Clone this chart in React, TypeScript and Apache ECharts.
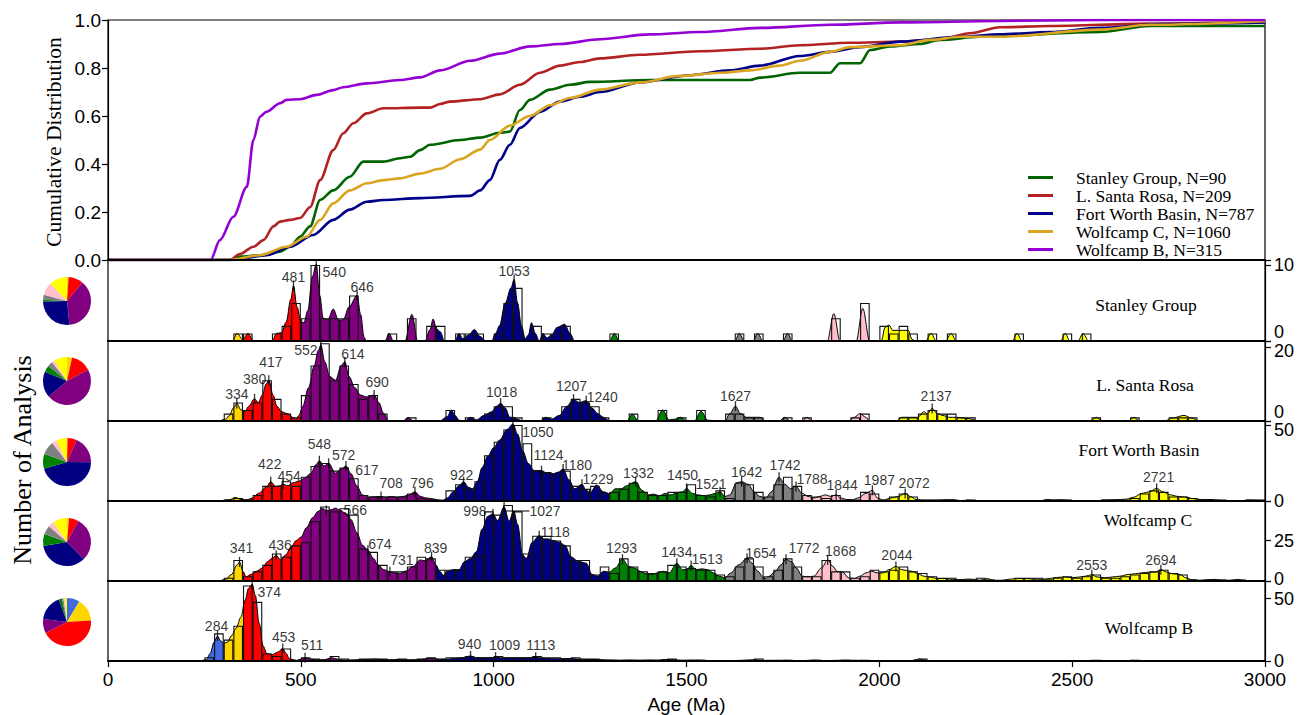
import React, { useEffect, useRef } from "react";
import * as echarts from "echarts";

// ---------------- data ----------------
const AGE_MIN = 0;
const AGE_MAX = 3000;
const AGE_STEP = 500;
const BIN_WIDTH = 25;

const seriesNames = [
  "Stanley Group, N=90",
  "L. Santa Rosa, N=209",
  "Fort Worth Basin, N=787",
  "Wolfcamp C, N=1060",
  "Wolfcamp B, N=315",
];
const panelNames = ["Stanley Group", "L. Santa Rosa", "Fort Worth Basin", "Wolfcamp C", "Wolfcamp B"];
const lineColors = ["#006400", "#B22222", "#00008B", "#DAA520", "#9400D3"];

// age groups used for fill colours and pies
const ageGroupBounds = [0, 300, 350, 500, 850, 1300, 1600, 1800, 2000, 3000];
const ageGroupColors = ["#4169E1", "#FFD700", "#FF0000", "#800080", "#000080", "#008000", "#808080", "#FFC0CB", "#FFFF00"];

// cumulative distributions [age, fraction]
const cdfStanley = [
  [0, 0], [316, 0], [342, 0.014], [394, 0.02], [446, 0.035], [472, 0.055], [498, 0.097], [524, 0.14], [550, 0.25],
  [584, 0.29], [627, 0.347], [662, 0.41], [714, 0.41], [757, 0.424], [783, 0.43], [809, 0.458], [835, 0.48], [913, 0.5],
  [965, 0.51], [1016, 0.53], [1042, 0.535], [1068, 0.625], [1094, 0.667], [1146, 0.71], [1198, 0.73], [1250, 0.742],
  [1405, 0.75], [1665, 0.75], [1691, 0.76], [1794, 0.78], [1872, 0.78], [1898, 0.82], [1950, 0.82], [1976, 0.875],
  [2028, 0.89], [2105, 0.9], [2157, 0.917], [2261, 0.93], [2572, 0.95], [2702, 0.975], [3000, 0.975],
];
const cdfSantaRosa = [
  [0, 0], [316, 0], [342, 0.025], [377, 0.055], [403, 0.083], [429, 0.14], [446, 0.16], [472, 0.167], [498, 0.175],
  [524, 0.22], [550, 0.333], [584, 0.458], [610, 0.528], [636, 0.57], [671, 0.611], [714, 0.632], [809, 0.635],
  [835, 0.635], [861, 0.65], [887, 0.66], [965, 0.67], [1016, 0.69], [1068, 0.73], [1120, 0.78], [1172, 0.81],
  [1224, 0.825], [1276, 0.84], [1379, 0.855], [1535, 0.87], [1691, 0.88], [1794, 0.895], [1924, 0.905], [2054, 0.91],
  [2157, 0.92], [2235, 0.945], [2313, 0.97], [2443, 0.975], [2702, 0.985], [2961, 0.99], [3000, 0.99],
];
const cdfFortWorth = [
  [0, 0], [323, 0], [411, 0.02], [472, 0.055], [532, 0.104], [584, 0.167], [627, 0.21], [671, 0.243], [714, 0.25],
  [809, 0.258], [939, 0.267], [965, 0.29], [990, 0.333], [1016, 0.417], [1042, 0.48], [1068, 0.55], [1120, 0.617],
  [1172, 0.66], [1224, 0.68], [1276, 0.7], [1379, 0.74], [1509, 0.77], [1613, 0.79], [1691, 0.81], [1794, 0.85],
  [1872, 0.867], [1950, 0.887], [2054, 0.91], [2209, 0.93], [2313, 0.94], [2443, 0.95], [2572, 0.967], [2728, 0.983],
  [3000, 0.99],
];
const cdfWolfcampC = [
  [0, 0], [316, 0], [394, 0.02], [463, 0.055], [515, 0.097], [550, 0.167], [584, 0.236], [627, 0.29], [671, 0.32],
  [714, 0.333], [757, 0.34], [809, 0.36], [861, 0.38], [913, 0.42], [965, 0.46], [990, 0.5], [1042, 0.56], [1094, 0.6],
  [1146, 0.645], [1198, 0.675], [1276, 0.71], [1379, 0.74], [1483, 0.767], [1587, 0.78], [1665, 0.79], [1742, 0.81],
  [1794, 0.83], [1872, 0.867], [1924, 0.887], [2054, 0.895], [2131, 0.917], [2209, 0.93], [2313, 0.93], [2572, 0.96],
  [2702, 0.98], [3000, 0.995],
];
const cdfWolfcampB = [
  [0, 0], [266, 0], [290, 0.083], [325, 0.18], [360, 0.305], [377, 0.5], [394, 0.597], [411, 0.618], [446, 0.653],
  [463, 0.667], [498, 0.67], [541, 0.688], [584, 0.708], [610, 0.72], [671, 0.736], [757, 0.75], [809, 0.761],
  [861, 0.79], [939, 0.83], [1016, 0.86], [1094, 0.89], [1172, 0.9], [1276, 0.92], [1405, 0.94], [1535, 0.95],
  [1691, 0.967], [1872, 0.98], [2054, 0.99], [2313, 0.996], [2572, 1.0], [3000, 1.0],
];

// histograms [bin start (Ma), count], 25 Ma bins
const stanleyHist = [
  [325, 1], [350, 1], [425, 1], [450, 2], [475, 5], [500, 3], [525, 10], [550, 3], [575, 3], [600, 3], [625, 6],
  [725, 1], [775, 3], [825, 2], [850, 2], [900, 1], [925, 1], [950, 1], [1000, 1], [1025, 5], [1050, 7], [1100, 2],
  [1125, 1], [1150, 1], [1175, 2], [1300, 1], [1625, 1], [1675, 1], [1750, 1], [1875, 3], [1950, 5], [2000, 2],
  [2025, 1], [2050, 2], [2075, 1], [2125, 1], [2175, 1], [2350, 1], [2475, 1], [2525, 1],
];
const santaRosaHist = [
  [300, 2], [325, 5], [350, 3], [375, 5], [400, 11], [425, 6], [450, 2], [475, 1], [500, 7], [525, 15], [550, 21],
  [575, 11], [600, 15], [625, 10], [650, 6], [675, 7], [700, 2], [775, 1], [875, 3], [925, 1], [975, 2], [1000, 4],
  [1025, 4], [1050, 1], [1125, 1], [1175, 4], [1200, 6], [1225, 5], [1250, 4], [1275, 1], [1350, 2], [1425, 3],
  [1475, 1], [1525, 3], [1600, 2], [1625, 2], [1650, 1], [1675, 1], [1750, 1], [1800, 1], [1925, 1], [1950, 2],
  [2050, 1], [2075, 1], [2100, 2], [2125, 3], [2150, 2], [2175, 2], [2200, 1], [2225, 1], [2550, 1], [2650, 1],
  [2750, 1], [2775, 1], [2800, 1],
];
const fortWorthHist = [
  [300, 1], [325, 2], [350, 1], [375, 4], [400, 10], [425, 10], [450, 13], [475, 10], [500, 16], [525, 23], [550, 25],
  [575, 20], [600, 22], [625, 15], [650, 4], [675, 3], [700, 3], [725, 3], [750, 3], [775, 5], [800, 2], [825, 1],
  [875, 7], [900, 11], [925, 8], [950, 13], [975, 30], [1000, 39], [1025, 47], [1050, 50], [1075, 38], [1100, 20],
  [1125, 19], [1150, 17], [1175, 20], [1200, 10], [1225, 8], [1250, 10], [1275, 5], [1300, 6], [1325, 8], [1350, 12],
  [1375, 6], [1400, 4], [1425, 4], [1450, 6], [1475, 6], [1500, 11], [1525, 4], [1550, 3], [1575, 7], [1600, 2],
  [1625, 12], [1650, 11], [1675, 6], [1700, 3], [1725, 11], [1750, 16], [1775, 10], [1800, 4], [1825, 3], [1850, 2],
  [1875, 4], [1900, 1], [1925, 1], [1950, 6], [1975, 5], [2000, 1], [2025, 3], [2050, 5], [2075, 3], [2100, 1],
  [2125, 1], [2150, 1], [2175, 1], [2225, 1], [2425, 1], [2450, 1], [2475, 1], [2575, 1], [2600, 1], [2625, 1],
  [2650, 2], [2675, 5], [2700, 7], [2725, 6], [2750, 3], [2775, 3], [2800, 2], [2825, 1], [2850, 1], [2875, 1],
  [2950, 1], [2975, 1],
];
const wolfcampCHist = [
  [300, 2], [325, 13], [350, 3], [375, 6], [400, 10], [425, 17], [450, 15], [475, 22], [500, 24], [525, 37], [550, 46],
  [575, 43], [600, 45], [625, 41], [650, 20], [675, 18], [700, 10], [725, 6], [750, 6], [775, 9], [800, 15], [825, 14],
  [850, 7], [875, 7], [900, 7], [925, 15], [950, 16], [975, 43], [1000, 41], [1025, 47], [1050, 43], [1075, 17],
  [1100, 28], [1125, 28], [1150, 25], [1175, 22], [1200, 13], [1225, 13], [1250, 4], [1275, 9], [1300, 5], [1325, 14],
  [1350, 9], [1375, 6], [1400, 5], [1425, 6], [1450, 10], [1475, 9], [1500, 8], [1525, 7], [1550, 7], [1575, 4],
  [1600, 3], [1625, 9], [1650, 14], [1675, 9], [1700, 3], [1725, 7], [1750, 14], [1775, 9], [1800, 3], [1825, 3],
  [1850, 13], [1875, 6], [1900, 6], [1925, 2], [1950, 3], [1975, 7], [2000, 6], [2025, 7], [2050, 9], [2075, 6],
  [2100, 5], [2125, 3], [2150, 2], [2175, 2], [2200, 1], [2225, 1], [2250, 2], [2275, 1], [2350, 2], [2375, 2],
  [2400, 2], [2425, 1], [2450, 2], [2475, 3], [2500, 2], [2525, 3], [2550, 4], [2575, 2], [2600, 2], [2625, 3],
  [2650, 4], [2675, 5], [2700, 6], [2725, 7], [2750, 5], [2775, 4], [2800, 1], [2850, 1], [2875, 1], [2925, 1],
];
const wolfcampBHist = [
  [250, 3], [275, 22], [300, 17], [325, 28], [350, 60], [375, 47], [400, 6], [425, 4], [450, 10], [500, 3], [525, 2],
  [550, 1], [575, 4], [600, 2], [625, 1], [650, 2], [675, 2], [700, 2], [725, 1], [750, 2], [775, 1], [800, 2],
  [825, 3], [850, 2], [875, 3], [900, 3], [925, 4], [950, 3], [975, 3], [1000, 4], [1025, 3], [1050, 3], [1075, 3],
  [1100, 4], [1125, 3], [1150, 3], [1175, 2], [1200, 3], [1225, 2], [1250, 2], [1275, 1], [1300, 1], [1350, 1],
  [1400, 1], [1450, 2], [1525, 1], [1675, 2], [1750, 1], [1825, 1], [1900, 1], [1950, 1], [2100, 2], [2550, 1],
  [2650, 1],
];

// probability density curves [age, value]
const stanleyKde = [
  [290, 0], [322, 0], [335, 1.0], [349, 0.2], [363, 1.0], [378, 0], [425, 0], [437, 1.0], [450, 1.1], [462, 2.5],
  [474, 5.5], [481, 7.3], [490, 4.5], [500, 2.6], [508, 2.4], [518, 4], [530, 8.5], [540, 10.1], [549, 6], [558, 3],
  [570, 2.8], [584, 4.2], [598, 2.7], [610, 2.8], [625, 4.5], [646, 6], [655, 3.5], [664, 0.5], [670, 0], [718, 0],
  [729, 1], [740, 0], [770, 0], [788, 3.5], [803, 0], [822, 0], [835, 1.5], [843, 2.9], [852, 1.6], [862, 1.2],
  [872, 0], [900, 0], [910, 1], [920, 0.3], [935, 0.8], [950, 1.5], [965, 0.6], [980, 0], [995, 0], [1005, 1],
  [1015, 2], [1030, 5], [1045, 7], [1053, 8.1], [1062, 5], [1072, 2], [1082, 0.3], [1090, 0.8], [1098, 2.4],
  [1108, 1], [1118, 0], [1128, 1], [1138, 0.4], [1150, 0.8], [1165, 1.8], [1184, 2.2], [1198, 1], [1210, 0],
  [1300, 0], [1313, 1], [1326, 0], [1625, 0], [1637, 1], [1650, 0], [1672, 0], [1685, 1], [1698, 0], [1750, 0],
  [1762, 1], [1775, 0], [1865, 0], [1882, 3.6], [1898, 0], [1940, 0], [1957, 4.3], [1975, 0], [2005, 0], [2015, 1.8],
  [2025, 2.1], [2035, 1.4], [2060, 1.4], [2075, 1.4], [2085, 0.2], [2095, 0], [2120, 0], [2134, 1], [2148, 0],
  [2172, 0], [2186, 1], [2200, 0], [2345, 0], [2357, 1], [2370, 0], [2470, 0], [2482, 1], [2494, 0], [2515, 0],
  [2528, 1], [2540, 0],
];
const santaRosaKde = [
  [290, 0], [305, 0.5], [315, 1.5], [325, 3.5], [334, 4.7], [345, 3], [355, 2.5], [365, 4], [380, 6], [390, 5],
  [400, 7], [410, 10], [417, 11], [428, 7], [438, 4], [450, 2.5], [465, 2], [478, 1.0], [488, 0.5], [495, 1.5],
  [505, 4], [520, 9], [535, 15], [545, 19], [552, 20.5], [562, 16], [575, 12], [590, 11], [605, 15], [614, 16],
  [625, 12], [640, 9], [655, 7], [670, 6.5], [690, 7], [702, 5], [715, 2], [728, 0], [765, 0], [778, 1], [792, 0],
  [860, 0], [880, 1.2], [890, 3], [900, 1.5], [910, 0.2], [925, 0], [940, 1], [955, 0.3], [975, 1.5], [995, 2.5],
  [1008, 4], [1018, 4.8], [1030, 3.5], [1042, 1], [1052, 1], [1062, 0.5], [1075, 0], [1120, 0], [1135, 1],
  [1150, 0.5], [1170, 1.5], [1190, 4], [1207, 5.9], [1222, 5], [1240, 5.5], [1255, 3.5], [1270, 2], [1285, 1],
  [1298, 0.2], [1310, 0], [1345, 0], [1360, 1.8], [1375, 0], [1420, 0], [1438, 3], [1455, 0.3], [1470, 0.5],
  [1485, 1], [1500, 0], [1520, 0], [1538, 2.6], [1555, 0.2], [1600, 0], [1612, 2], [1627, 4], [1640, 2], [1655, 1],
  [1670, 1], [1690, 1], [1705, 0], [1740, 0], [1755, 1], [1770, 0], [1800, 0], [1812, 1], [1825, 0], [1920, 0],
  [1935, 1], [1950, 2], [1965, 1], [1975, 0], [2045, 0], [2058, 1], [2080, 1], [2100, 1], [2115, 2.5], [2125, 2],
  [2137, 3.4], [2150, 2], [2165, 1.5], [2180, 1], [2200, 1], [2220, 0.8], [2240, 0.5], [2255, 0], [2548, 0],
  [2563, 1], [2578, 0], [2645, 0], [2660, 1], [2675, 0], [2740, 0], [2760, 0.8], [2790, 1.5], [2810, 0.8], [2825, 0],
];
const fortWorthKde = [
  [290, 0], [315, 0.8], [330, 2.4], [345, 1], [360, 0.8], [375, 2], [390, 5], [410, 9], [422, 12.7], [435, 9.5],
  [445, 10], [454, 11], [465, 10], [480, 12], [495, 13], [510, 15], [525, 18], [540, 24], [548, 26.5], [560, 23],
  [572, 24.8], [590, 18.3], [605, 21], [617, 23], [630, 18], [645, 10], [660, 4], [675, 2.5], [690, 2.8], [708, 3],
  [720, 2.5], [735, 3], [750, 2.5], [765, 3], [780, 4], [796, 6], [810, 3], [825, 2], [840, 1.5], [855, 0.8],
  [868, 0.5], [880, 2], [895, 6], [910, 10], [922, 12.7], [935, 9], [945, 8], [958, 13], [970, 22], [985, 29.6],
  [1000, 35], [1015, 40], [1035, 47], [1050, 50.7], [1062, 44], [1075, 33], [1090, 24.7], [1105, 20], [1124, 20],
  [1140, 18], [1155, 18], [1168, 19], [1180, 21], [1195, 14], [1210, 8], [1229, 11], [1240, 7], [1250, 5.5],
  [1267, 10.5], [1285, 6], [1302, 4.8], [1315, 8], [1330, 8], [1345, 10], [1368, 12.7], [1385, 7], [1400, 4],
  [1415, 4.5], [1430, 3.5], [1445, 5], [1460, 4], [1475, 5.5], [1490, 6], [1500, 8.3], [1515, 5], [1530, 4],
  [1545, 3.5], [1560, 4], [1575, 5], [1587, 6], [1600, 3], [1612, 4], [1630, 12], [1643, 12.7], [1660, 11],
  [1675, 6], [1690, 3], [1706, 2], [1720, 6], [1740, 15.6], [1755, 11], [1770, 8], [1784, 9.6], [1800, 5],
  [1815, 3], [1830, 2], [1845, 3], [1860, 4], [1875, 3], [1888, 4], [1900, 2], [1915, 1], [1930, 0.8], [1945, 2],
  [1965, 5], [1982, 7], [1995, 2], [2010, 0.5], [2030, 2], [2050, 3], [2067, 5], [2080, 3], [2095, 1], [2110, 0.5],
  [2130, 0.5], [2150, 0.5], [2175, 0.8], [2190, 0.8], [2210, 0.3], [2230, 0.5], [2250, 0.2], [2270, 0], [2420, 0],
  [2435, 1], [2450, 0.6], [2470, 0.8], [2490, 0.5], [2505, 0], [2560, 0], [2580, 0.6], [2610, 0.8], [2640, 1.2],
  [2660, 2.5], [2680, 5], [2700, 6], [2719, 8.3], [2735, 6], [2755, 4], [2775, 3], [2795, 2.5], [2815, 1.5],
  [2835, 1], [2860, 1], [2880, 0.5], [2900, 0], [2935, 0], [2955, 0.6], [2975, 0.5], [2995, 0.2],
];
const wolfcampCKde = [
  [290, 0], [305, 1], [320, 4], [335, 10], [341, 11.8], [350, 6], [358, 2.6], [370, 4], [385, 6], [400, 8],
  [414, 12], [425, 14], [436, 15.9], [448, 13], [460, 16], [475, 21], [488, 25], [500, 27], [515, 33], [530, 39],
  [545, 43], [556, 45], [566, 43.5], [578, 44], [590, 45], [600, 44], [615, 42], [630, 38], [645, 30], [660, 22],
  [674, 19], [688, 14], [700, 10], [715, 7], [731, 5.7], [740, 5.2], [755, 4.5], [770, 6], [790, 9], [810, 13],
  [822, 12.5], [839, 15], [850, 10], [860, 6], [870, 3.5], [880, 6], [895, 7], [910, 7], [925, 12], [940, 14],
  [955, 18], [970, 32], [985, 40], [998, 41.5], [1010, 37.4], [1027, 45.7], [1040, 37], [1052, 43.3], [1062, 35],
  [1075, 16], [1085, 14], [1100, 24], [1118, 28], [1130, 26], [1140, 26], [1155, 25], [1170, 24], [1185, 22],
  [1200, 15], [1220, 12], [1240, 11], [1255, 4], [1270, 3], [1285, 6], [1300, 5.5], [1315, 8], [1334, 13.5],
  [1350, 9], [1365, 8], [1380, 6], [1395, 4.5], [1410, 4], [1425, 5], [1440, 6], [1455, 5], [1475, 11], [1490, 7],
  [1500, 7], [1512, 9.6], [1525, 7], [1540, 7.5], [1555, 7], [1570, 5], [1585, 3], [1600, 2], [1615, 5], [1635, 10],
  [1657, 14], [1670, 11], [1685, 6], [1700, 2], [1706, 1.6], [1715, 3], [1730, 6], [1745, 10], [1758, 13.4],
  [1772, 12], [1785, 8], [1800, 3], [1815, 2.5], [1830, 3], [1850, 8], [1866, 13], [1880, 9], [1890, 6],
  [1905, 5.5], [1920, 2], [1935, 1.5], [1950, 3], [1965, 5], [1980, 6], [1995, 5], [2010, 5], [2025, 7], [2043, 9],
  [2058, 7], [2070, 6.5], [2085, 6], [2100, 4.5], [2115, 3], [2130, 2.5], [2150, 1.5], [2170, 1.5], [2190, 1],
  [2210, 0.8], [2230, 1.2], [2245, 1], [2260, 0.5], [2280, 1.5], [2295, 0.4], [2320, 0.5], [2340, 1.2], [2360, 1.5],
  [2380, 1.5], [2400, 1.2], [2420, 1], [2440, 1.5], [2460, 2.2], [2480, 2.5], [2500, 2], [2520, 2.5], [2535, 3],
  [2551, 3.9], [2565, 2.5], [2585, 2], [2605, 2.5], [2625, 3], [2645, 4], [2665, 4.5], [2680, 5], [2700, 5.5],
  [2715, 5.5], [2730, 7], [2745, 5.5], [2760, 4.5], [2780, 4], [2795, 2], [2810, 0.8], [2830, 0.5], [2850, 0.8],
  [2870, 1], [2890, 0.4], [2910, 0.5], [2930, 1], [2945, 0.2], [2960, 0],
];
const wolfcampBKde = [
  [240, 0], [255, 1], [265, 6], [275, 15], [284, 19.8], [292, 16], [300, 14], [310, 15], [320, 20], [332, 26],
  [345, 35], [355, 48], [365, 58], [374, 61], [382, 52], [392, 30], [402, 12], [412, 6], [425, 5], [440, 7],
  [453, 10], [462, 6], [470, 2], [480, 1], [490, 0.5], [500, 1.5], [511, 2.5], [525, 1.5], [540, 1], [560, 1],
  [580, 2.6], [595, 1.5], [610, 0.8], [630, 0.8], [650, 1], [670, 1.2], [690, 1.5], [710, 1.2], [730, 1], [750, 1.2],
  [770, 1], [790, 1], [810, 1.2], [830, 2], [845, 2], [860, 1.2], [880, 1.5], [900, 2], [920, 2.5], [940, 4],
  [955, 2.5], [970, 2.5], [990, 2.5], [1005, 3], [1020, 2.5], [1040, 2.5], [1060, 2.5], [1080, 2.5], [1095, 2.5],
  [1109, 3], [1125, 2.3], [1140, 2], [1160, 1.8], [1180, 1.8], [1200, 2], [1220, 1.5], [1240, 1.2], [1260, 1.2],
  [1280, 1], [1300, 0.8], [1320, 0.6], [1345, 0.8], [1370, 0.6], [1395, 0.8], [1420, 0.6], [1445, 1.2], [1465, 1],
  [1490, 0.6], [1515, 0.8], [1540, 0.6], [1560, 0.3], [1600, 0.3], [1640, 0.5], [1675, 1], [1700, 0.5], [1740, 0.6],
  [1760, 0.5], [1800, 0.3], [1830, 0.7], [1860, 0.3], [1900, 0.6], [1940, 0.6], [1970, 0.3], [2000, 0.2],
  [2080, 0.3], [2105, 1.5], [2125, 0.5], [2150, 0], [2530, 0], [2550, 0.5], [2570, 0], [2640, 0], [2655, 0.5],
  [2670, 0],
];

// peaks: [label text, age (Ma), density]
const stanleyPeaks = [["481", 481, 7.3], ["540", 540, 10.1], ["646", 646, 6.0], ["1053", 1053, 8.1]];
const santaRosaPeaks = [
  ["334", 334, 4.7], ["380", 380, 6.0], ["417", 417, 11.0], ["552", 552, 20.5], ["614", 614, 16.0], ["690", 690, 7.0],
  ["1018", 1018, 4.8], ["1207", 1207, 5.9], ["1240", 1240, 5.5], ["1627", 1627, 4.0], ["2137", 2137, 3.4],
];
const fortWorthPeaks = [
  ["422", 422, 12.7], ["454", 454, 11], ["548", 548, 26.5], ["572", 572, 24.8], ["617", 617, 23], ["708", 708, 3],
  ["796", 796, 6], ["922", 922, 12.7], ["1050", 1050, 50.7], ["1124", 1124, 20], ["1180", 1180, 21], ["1229", 1229, 11],
  ["1332", 1368, 12.7], ["1450", 1500, 8.3], ["1521", 1587, 6], ["1642", 1643, 12.7], ["1742", 1740, 15.6],
  ["1788", 1784, 9.6], ["1844", 1888, 4], ["1987", 1982, 7], ["2072", 2067, 5], ["2721", 2719, 8.3],
];
const wolfcampCPeaks = [
  ["341", 341, 11.8], ["436", 436, 15.9], ["566", 566, 43.5], ["674", 674, 19], ["731", 731, 5.7], ["839", 839, 15],
  ["998", 998, 41.5], ["1027", 1027, 45.7], ["1118", 1118, 28], ["1293", 1334, 13.5], ["1434", 1475, 11],
  ["1513", 1512, 9.6], ["1654", 1657, 14], ["1772", 1758, 13.4], ["1868", 1866, 13], ["2044", 2043, 9],
  ["2553", 2551, 3.9], ["2694", 2730, 7],
];
const wolfcampBPeaks = [
  ["284", 284, 19.8], ["374", 374, 61], ["453", 453, 10], ["511", 511, 2.5], ["940", 940, 4], ["1009", 1005, 3],
  ["1113", 1109, 3],
];

const cdfs = [cdfStanley, cdfSantaRosa, cdfFortWorth, cdfWolfcampC, cdfWolfcampB];
const hists = [stanleyHist, santaRosaHist, fortWorthHist, wolfcampCHist, wolfcampBHist];
const kdes = [stanleyKde, santaRosaKde, fortWorthKde, wolfcampCKde, wolfcampBKde];
const peaks = [stanleyPeaks, santaRosaPeaks, fortWorthPeaks, wolfcampCPeaks, wolfcampBPeaks];
const panelYMax = [10.66, 21.6, 52.6, 49.4, 63.5];
const panelYStep = [10, 20, 50, 25, 50];

// ---------------- layout / style ----------------
const SANS = "'Liberation Sans', Arial, Helvetica, sans-serif";
const SERIF = "'Liberation Serif', 'Times New Roman', Times, serif";
const PLOT_LEFT = 108;
const PLOT_W = 1157;
const CDF_TOP = 20;
const CDF_H = 240;
const PANEL_TOPS = [260, 341, 421, 501, 581];
const PANEL_HS = [81, 80, 80, 80, 80];
const PIE_X = 67;
const PIE_YS = [301, 381, 462, 542, 622];
const PIE_R = 24;
const NAME_POS = [[1146, 305], [1145, 385], [1139, 450], [1148, 520], [1149, 628]];
// vertical shift (px, + = down) of the right-axis "0" label and upper label of each panel
const ZERO_LABEL_SHIFT = [-9, -9, 0, -2, 0];
const UPPER_LABEL_SHIFT = [0, 4, 5, 0, 1];
// pixel offset of each peak label's centre from its peak
const LABEL_OFFSETS: Record<string, number[]>[] = [
  { "481": [0, -9], "540": [18, 8], "646": [5, -8], "1053": [0, -8] },
  {
    "334": [0, -10], "380": [0, -20], "417": [2, -18], "552": [-15, 5], "614": [8, -8], "690": [3, -13],
    "1018": [1, -11], "1207": [-2, -13], "1240": [16, -4], "1627": [0, -10], "2137": [4, -12],
  },
  {
    "422": [-1, -18], "454": [6, -8], "548": [0, -17], "572": [15, -8], "617": [21, 4], "708": [10, -13],
    "796": [7, -9], "922": [-2, -7], "1050": [25, 8], "1124": [7, -16], "1180": [14, -4], "1229": [16, -5],
    "1332": [3, -9], "1450": [-4, -13], "1521": [-9, -8], "1642": [5, -10], "1742": [6, -12], "1788": [16, -7],
    "1844": [6, -10], "1987": [7, -10], "2072": [9, -10], "2721": [2, -11],
  },
  {
    "341": [2, -14], "436": [4, -10], "566": [29, -1], "674": [12, -6], "731": [12, -12], "839": [4, -9],
    "998": [-18, -3], "1027": [41, 4], "1118": [16, -4], "1293": [-1, -11], "1434": [0, -11], "1513": [16, -6],
    "1654": [14, -5], "1772": [18, -11], "1868": [13, -9], "2044": [1, -11], "2553": [0, -10], "2694": [0, -10],
  },
  { "284": [-1, -10], "374": [17, 8], "453": [1, -11], "511": [7, -13], "940": [-1, -12], "1009": [9, -12], "1113": [5, -12] },
];
const LEADER_LABELS: Record<string, boolean> = { "3:1027": true };

function groupIndex(age: number) {
  for (let k = 0; k < ageGroupBounds.length - 1; k++) {
    if (age >= ageGroupBounds[k] && age < ageGroupBounds[k + 1]) return k;
  }
  return ageGroupBounds.length - 2;
}

function shiftPadding(s: number) {
  return s < 0 ? [0, 0, -2 * s, 0] : [2 * s, 0, 0, 0];
}

function buildOption() {
  const grid: any[] = [
    { left: PLOT_LEFT, top: CDF_TOP, width: PLOT_W, height: CDF_H, show: true, borderColor: "#000", borderWidth: 1.2, outerBoundsMode: "none", containLabel: false },
  ];
  PANEL_TOPS.forEach((t, i) =>
    grid.push({ left: PLOT_LEFT, top: t, width: PLOT_W, height: PANEL_HS[i], show: true, borderColor: "#000", borderWidth: 1.2, outerBoundsMode: "none", containLabel: false })
  );

  const xAxis: any[] = [];
  for (let g = 0; g < 6; g++) {
    const bottom = g === 5;
    xAxis.push({
      type: "value",
      gridIndex: g,
      min: AGE_MIN,
      max: AGE_MAX,
      interval: AGE_STEP,
      z: 10,
      axisLine: { show: true, onZero: false, lineStyle: { color: "#000", width: 1.8 } },
      axisTick: { show: bottom, length: 6, lineStyle: { color: "#000", width: 1.2 } },
      axisLabel: { show: bottom, fontSize: 19, fontFamily: SANS, color: "#000", margin: 9, formatter: (v: number) => String(v) },
      splitLine: { show: false },
      name: bottom ? "Age (Ma)" : "",
      nameLocation: "middle",
      nameGap: 34,
      nameTextStyle: { fontSize: 19, fontFamily: SANS, color: "#000" },
    });
  }

  const yAxis: any[] = [
    {
      type: "value",
      gridIndex: 0,
      min: 0,
      max: 1,
      interval: 0.2,
      z: 10,
      axisLine: { show: true, onZero: false, lineStyle: { color: "#000", width: 1.2 } },
      axisTick: { show: true, length: 6, lineStyle: { color: "#000", width: 1.2 } },
      axisLabel: { fontSize: 19, fontFamily: SANS, color: "#000", margin: 7, formatter: (v: number) => v.toFixed(1) },
      splitLine: { show: false },
    },
  ];
  for (let i = 0; i < 5; i++) {
    const step = panelYStep[i];
    const base = { fontSize: 18, fontFamily: SANS, color: "#000" };
    yAxis.push({
      type: "value",
      gridIndex: i + 1,
      position: "right",
      min: 0,
      max: panelYMax[i],
      interval: step,
      z: 10,
      axisLine: { show: true, onZero: false, lineStyle: { color: "#000", width: 1.2 } },
      axisTick: { show: true, length: 6, lineStyle: { color: "#000", width: 1.2 } },
      axisLabel: {
        ...base,
        margin: 9,
        formatter: (v: number) => {
          const r = v / step;
          if (Math.abs(r - Math.round(r)) > 1e-6) return "";
          if (v === 0) return "{z|0}";
          return `{u|${v}}`;
        },
        rich: {
          z: { ...base, padding: shiftPadding(ZERO_LABEL_SHIFT[i]) },
          u: { ...base, padding: shiftPadding(UPPER_LABEL_SHIFT[i]) },
        },
      },
      splitLine: { show: false },
    });
  }

  const series: any[] = [];
  cdfs.forEach((d, i) => {
    series.push({
      type: "line",
      name: seriesNames[i],
      xAxisIndex: 0,
      yAxisIndex: 0,
      data: d,
      smooth: 0.3,
      smoothMonotone: "x",
      symbol: "none",
      lineStyle: { color: lineColors[i], width: 2.6 },
      itemStyle: { color: lineColors[i] },
      z: 3,
      silent: true,
    });
  });

  const kdeIdx: number[] = [];
  const barPx = (PLOT_W / (AGE_MAX - AGE_MIN)) * BIN_WIDTH;
  for (let i = 0; i < 5; i++) {
    kdeIdx.push(series.length);
    series.push({
      type: "line",
      xAxisIndex: i + 1,
      yAxisIndex: i + 1,
      data: kdes[i],
      smooth: 0.35,
      smoothMonotone: "x",
      symbol: "none",
      lineStyle: { color: "#000", width: 1 },
      areaStyle: { opacity: 1 },
      z: 2,
      silent: true,
    });
    series.push({
      type: "bar",
      xAxisIndex: i + 1,
      yAxisIndex: i + 1,
      data: hists[i].map(([s, c]) => [s + BIN_WIDTH / 2, c]),
      barWidth: barPx,
      itemStyle: { color: "rgba(0,0,0,0)", borderColor: "#111", borderWidth: 1.1 },
      z: 3,
      silent: true,
    });
    const offs = LABEL_OFFSETS[i];
    const pk = peaks[i];
    series.push({
      type: "scatter",
      xAxisIndex: i + 1,
      yAxisIndex: i + 1,
      symbol: "rect",
      symbolSize: [1.3, 10],
      itemStyle: { color: "#000" },
      z: 5,
      silent: true,
      data: pk.map(([t, a, h]) => ({
        name: t,
        value: [a, h],
        labelLine: { show: !!LEADER_LABELS[`${i}:${t}`], lineStyle: { color: "#000", width: 1 } },
      })),
      label: { show: true, position: "inside", formatter: "{b}", fontSize: 14, fontFamily: SANS, color: "#000" },
      labelLine: { show: false },
      labelLayout: (p: any) => {
        const o = offs[pk[p.dataIndex][0] as string] || [0, -10];
        return { dx: o[0], dy: o[1] };
      },
    });
    const sums = ageGroupColors.map(() => 0);
    hists[i].forEach(([s, c]) => {
      sums[groupIndex(s)] += c;
    });
    series.push({
      type: "pie",
      center: [PIE_X, PIE_YS[i]],
      radius: PIE_R,
      startAngle: 90,
      clockwise: true,
      silent: true,
      label: { show: false },
      labelLine: { show: false },
      data: sums.map((v, k) => ({ value: v, itemStyle: { color: ageGroupColors[k] } })),
      itemStyle: { borderWidth: 0 },
    });
  }

  const pieces: any[] = ageGroupColors.map((c, k) => ({ gte: ageGroupBounds[k], lt: ageGroupBounds[k + 1], color: c }));
  pieces[pieces.length - 1] = { gte: ageGroupBounds[ageGroupBounds.length - 2], lt: 100000, color: ageGroupColors[ageGroupColors.length - 1] };
  pieces[0] = { gte: -100000, lt: ageGroupBounds[1], color: ageGroupColors[0] };

  const graphic: any[] = [
    {
      type: "text",
      x: 54,
      y: 142,
      rotation: Math.PI / 2,
      style: { text: "Cumulative Distribution", fontSize: 21.5, fontFamily: SERIF, fill: "#000", align: "center", verticalAlign: "middle" },
    },
    {
      type: "text",
      x: 22,
      y: 460,
      rotation: Math.PI / 2,
      style: { text: "Number of Analysis", fontSize: 26, fontFamily: SERIF, fill: "#000", align: "center", verticalAlign: "middle" },
    },
  ];
  panelNames.forEach((n, i) => {
    graphic.push({
      type: "text",
      x: NAME_POS[i][0],
      y: NAME_POS[i][1],
      z: 20,
      style: { text: n, fontSize: 17.5, fontFamily: SERIF, fill: "#000", align: "center", verticalAlign: "middle" },
    });
  });

  return {
    animation: false,
    backgroundColor: "#fff",
    textStyle: { fontFamily: SANS },
    grid,
    xAxis,
    yAxis,
    legend: {
      data: seriesNames,
      orient: "vertical",
      left: 1028,
      top: 168.5,
      padding: 0,
      icon: "rect",
      itemWidth: 25,
      itemHeight: 3,
      itemGap: 0,
      selectedMode: false,
      textStyle: { fontFamily: SERIF, fontSize: 17.5, color: "#000", lineHeight: 16.7, padding: [0, 0, 0, 18] },
    },
    visualMap: [
      { type: "piecewise", show: false, dimension: 0, seriesIndex: kdeIdx, pieces, outOfRange: { color: "#000" } },
    ],
    graphic,
    series,
  };
}

export default function App() {
  const ref = useRef<HTMLDivElement>(null);
  useEffect(() => {
    if (!ref.current) return;
    const chart = echarts.init(ref.current, null, { renderer: "svg" });
    chart.setOption(buildOption() as any);
    return () => chart.dispose();
  }, []);
  return (
    <div
      ref={ref}
      style={{ position: "fixed", left: 0, top: 0, width: 1298, height: 715, background: "#fff" }}
    />
  );
}
